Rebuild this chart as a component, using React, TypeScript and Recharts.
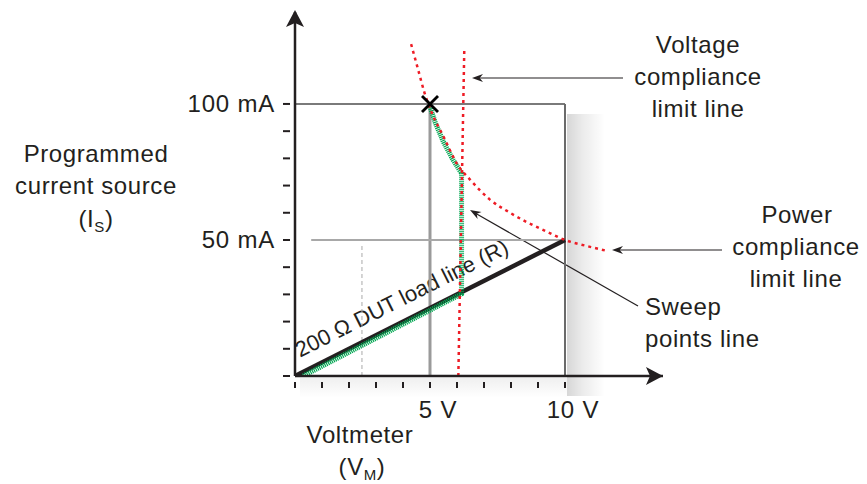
import React from 'react';
import { ComposedChart, Line, XAxis, YAxis, ReferenceLine, Scatter, Customized } from 'recharts';

// ---- data (volts, milliamps) ----
const voltTicks = [0, 1, 2, 3, 4, 5, 6, 7, 8, 9, 10];
const currentTicks = [0, 10, 20, 30, 40, 50, 60, 70, 80, 90, 100];
const voltLabels: Record<number, string> = { 5: '5 V', 10: '10 V' };
const currentLabels: Record<number, string> = { 50: '50 mA', 100: '100 mA' };

const X_MAX = 13.63;
const Y_MAX = 133.8;

const loadLine = [
  { v: 0, i: 0 },
  { v: 10, i: 50 },
];
const powerLimit = [
  { v: 4.3, i: 122 },
  { v: 4.55, i: 113 },
  { v: 4.8, i: 104 },
  { v: 5.1, i: 96 },
  { v: 5.5, i: 88 },
  { v: 6.0, i: 78 },
  { v: 6.5, i: 72 },
  { v: 7.2, i: 65 },
  { v: 8.0, i: 59.8 },
  { v: 8.6, i: 56.5 },
  { v: 9.3, i: 53.2 },
  { v: 10, i: 50 },
  { v: 10.8, i: 47.8 },
  { v: 11.55, i: 46 },
];
const voltageLimit = [
  { v: 6.05, i: 0 },
  { v: 6.27, i: 120 },
];
const sweepPoints = [
  { v: 0.3, i: 0 },
  { v: 6.17, i: 30.2 },
  { v: 6.17, i: 74.5 },
  { v: 5.85, i: 79.5 },
  { v: 5.5, i: 86 },
  { v: 5.2, i: 93 },
  { v: 5.0, i: 99 },
];
const startPoint = [{ v: 5, i: 100 }];

const INK = '#231f20';
const RED = '#ee1c25';
const GREEN = '#00a651';
const FONT = '"Liberation Sans", Arial, Helvetica, sans-serif';

const YTick = (props: any) => {
  const { x, y, payload } = props;
  const label = currentLabels[payload.value];
  return (
    <g>
      <line x1={x - 12} x2={x - 5} y1={y} y2={y} stroke={INK} strokeWidth={2} />
      {label && (
        <text x={x - 20} y={y + 8} textAnchor="end" fontSize={24} letterSpacing={0.8} fill={INK} fontFamily={FONT}>
          {label}
        </text>
      )}
    </g>
  );
};

const XTick = (props: any) => {
  const { x, y, payload } = props;
  const label = voltLabels[payload.value];
  return (
    <g>
      <line x1={x} x2={x} y1={y + 6} y2={y + 12} stroke={INK} strokeWidth={2} />
      {label && (
        <text x={x + 8} y={y + 42} textAnchor="middle" fontSize={24} letterSpacing={0.8} fill={INK} fontFamily={FONT}>
          {label}
        </text>
      )}
    </g>
  );
};

const XMark = (props: any) => {
  const { cx, cy } = props;
  const s = 8;
  return (
    <g stroke="#000" strokeWidth={2.8}>
      <line x1={cx - s} y1={cy - s} x2={cx + s} y2={cy + s} />
      <line x1={cx - s} y1={cy + s} x2={cx + s} y2={cy - s} />
    </g>
  );
};

const arrowHead = (x: number, y: number, angleDeg: number) => {
  const a = (angleDeg * Math.PI) / 180;
  const L = 11;
  const w = 4;
  const bx = x + L * Math.cos(a);
  const by = y + L * Math.sin(a);
  const px = -Math.sin(a) * w;
  const py = Math.cos(a) * w;
  const mx = x + 0.7 * L * Math.cos(a);
  const my = y + 0.7 * L * Math.sin(a);
  return `M${x},${y} L${bx + px},${by + py} L${mx},${my} L${bx - px},${by - py} Z`;
};

const Annotations = () => {
  const t = { fontSize: 24, letterSpacing: 0.6, fill: INK, fontFamily: FONT } as any;
  return (
    <g>
      {/* axis arrow heads */}
      <path d="M295,10 L304,27 L295,23 L286,27 Z" fill={INK} />
      <path d="M663,376 L646,385 L650,376 L646,367 Z" fill={INK} />

      {/* left axis title */}
      <text x={96} y={162} textAnchor="middle" {...t}>Programmed</text>
      <text x={96} y={194} textAnchor="middle" {...t}>current source</text>
      <text x={96} y={227} textAnchor="middle" {...t}>
        (I<tspan fontSize={15} dy={5}>S</tspan><tspan dy={-5}>)</tspan>
      </text>

      {/* bottom axis title */}
      <text x={360} y={443} textAnchor="middle" {...t}>Voltmeter</text>
      <text x={362} y={475} textAnchor="middle" {...t}>
        (V<tspan fontSize={15} dy={5}>M</tspan><tspan dy={-5}>)</tspan>
      </text>

      {/* load line label */}
      <text
        x={405}
        y={305}
        textAnchor="middle"
        fontSize={22}
        fill={INK}
        fontFamily={FONT}
        transform="rotate(-26.65 405 305)"
      >
        200 Ω DUT load line (R)
      </text>

      {/* voltage compliance */}
      <text x={698} y={53} textAnchor="middle" {...t}>Voltage</text>
      <text x={698} y={85} textAnchor="middle" {...t}>compliance</text>
      <text x={698} y={117} textAnchor="middle" {...t}>limit line</text>
      <line x1={623} y1={78} x2={478} y2={78} stroke={INK} strokeWidth={1.2} />
      <path d={arrowHead(472, 78, 0)} fill={INK} />

      {/* power compliance */}
      <text x={797} y={223} textAnchor="middle" {...t}>Power</text>
      <text x={796} y={255} textAnchor="middle" {...t}>compliance</text>
      <text x={796} y={287} textAnchor="middle" {...t}>limit line</text>
      <line x1={722} y1={250} x2={618} y2={250} stroke={INK} strokeWidth={1.2} />
      <path d={arrowHead(612, 250, 0)} fill={INK} />

      {/* sweep points */}
      <text x={645} y={315} textAnchor="start" {...t}>Sweep</text>
      <text x={645} y={347} textAnchor="start" {...t}>points line</text>
      <line x1={638} y1={306} x2={475} y2={213} stroke={INK} strokeWidth={1.2} />
      <path d={arrowHead(470, 210, 29.7)} fill={INK} />
    </g>
  );
};

export default function App() {
  return (
    <div style={{ position: 'absolute', left: 0, top: 0, width: 867, height: 484, background: '#fff' }}>
      <svg width={867} height={484} style={{ position: 'absolute', left: 0, top: 0 }}>
        <defs>
          <linearGradient id="shadowRightGrad" x1="0%" y1="0%" x2="100%" y2="0%">
            <stop offset="0%" stopColor="#000" stopOpacity={0.16} />
            <stop offset="40%" stopColor="#000" stopOpacity={0.08} />
            <stop offset="100%" stopColor="#000" stopOpacity={0} />
          </linearGradient>
          <linearGradient id="shadowBottomGrad" x1="0%" y1="0%" x2="0%" y2="100%">
            <stop offset="0%" stopColor="#000" stopOpacity={0.06} />
            <stop offset="100%" stopColor="#000" stopOpacity={0} />
          </linearGradient>
        </defs>
        <rect x={567} y={114} width={38} height={282} fill="url(#shadowRightGrad)" />
        <rect x={300} y={378} width={267} height={20} fill="url(#shadowBottomGrad)" />
      </svg>
      <div style={{ position: 'absolute', left: 0, top: 0 }}>
        <ComposedChart
          width={867}
          height={484}
          margin={{ left: 294, top: 12, right: 204, bottom: 107 }}
          style={{ fontFamily: FONT }}
        >
          <XAxis
            dataKey="v"
            type="number"
            domain={[0, X_MAX]}
            ticks={voltTicks}
            interval={0}
            height={1}
            tickSize={0}
            tickMargin={0}
            tickLine={false}
            axisLine={{ stroke: INK, strokeWidth: 2.5 }}
            tick={<XTick />}
            allowDataOverflow
          />
          <YAxis
            dataKey="i"
            type="number"
            domain={[0, Y_MAX]}
            ticks={currentTicks}
            interval={0}
            width={1}
            tickSize={0}
            tickMargin={0}
            tickLine={false}
            axisLine={{ stroke: INK, strokeWidth: 2.5 }}
            tick={<YTick />}
            allowDataOverflow
          />
          <ReferenceLine segment={[{ x: 0, y: 100 }, { x: 10, y: 100 }]} stroke="#7a7a7a" strokeWidth={2} />
          <ReferenceLine segment={[{ x: 10, y: 0 }, { x: 10, y: 100 }]} stroke="#6a6a6a" strokeWidth={2} />
          <ReferenceLine segment={[{ x: 5, y: 0 }, { x: 5, y: 100 }]} stroke="#9a9a9a" strokeWidth={3} />
          <ReferenceLine segment={[{ x: 0.6, y: 50 }, { x: 10, y: 50 }]} stroke="#a8a8a8" strokeWidth={2} />
          <ReferenceLine segment={[{ x: 2.48, y: 0 }, { x: 2.48, y: 48 }]} stroke="#aaaaaa" strokeWidth={1} strokeDasharray="4 3" />
          <Line data={loadLine} dataKey="i" stroke={INK} strokeWidth={4.5} dot={false} isAnimationActive={false} type="linear" />
          <Line data={sweepPoints} dataKey="i" stroke={GREEN} strokeWidth={5} strokeDasharray="1.2 0.8" dot={false} isAnimationActive={false} type="linear" />
          <Line data={powerLimit} dataKey="i" stroke={RED} strokeWidth={2.5} strokeDasharray="3 4" dot={false} isAnimationActive={false} type="monotone" />
          <Line data={voltageLimit} dataKey="i" stroke={RED} strokeWidth={2.5} strokeDasharray="3 4" dot={false} isAnimationActive={false} type="linear" />
          <Scatter data={startPoint} dataKey="i" shape={<XMark />} isAnimationActive={false} />
          <Customized component={<Annotations />} />
        </ComposedChart>
      </div>
    </div>
  );
}
